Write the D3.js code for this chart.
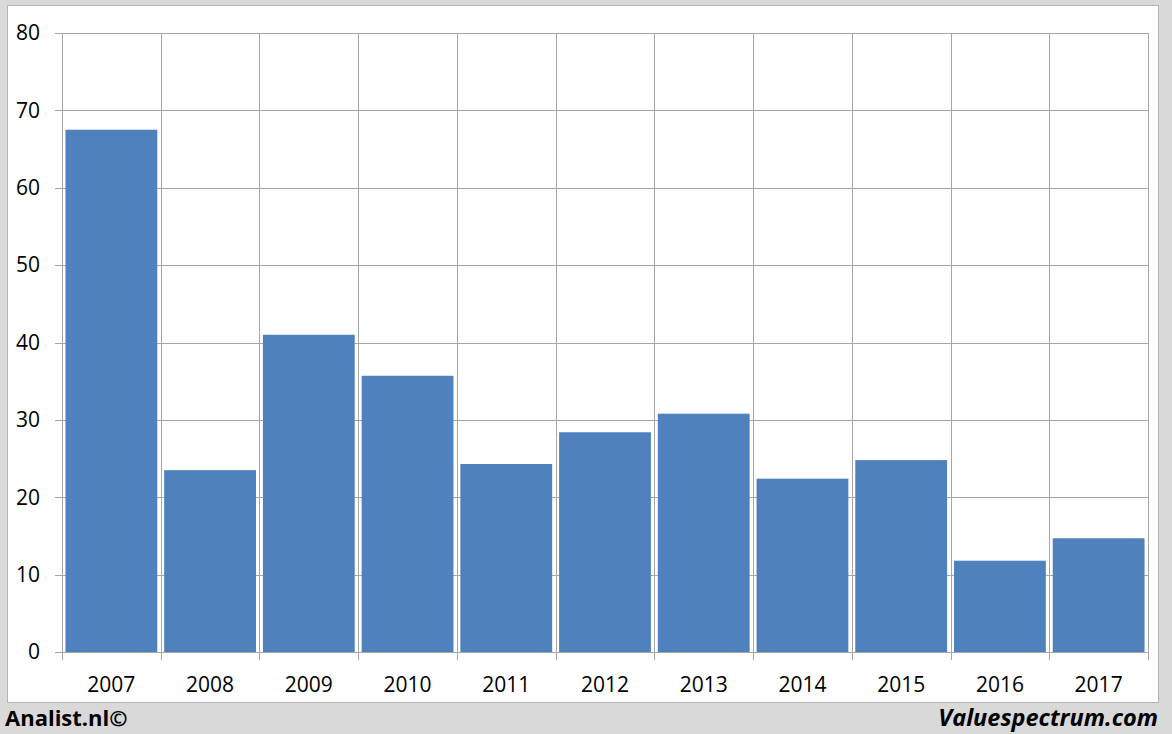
<!DOCTYPE html>
<html><head><meta charset="utf-8">
<script src="https://cdn.jsdelivr.net/npm/d3@7"></script>
<style>body{margin:0;background:#d9d9d9;}svg{display:block;}</style>
</head><body>
<svg id="c" width="1172" height="734"></svg>
<script>
const categories = ["2007","2008","2009","2010","2011","2012","2013","2014","2015","2016","2017"];
const values = [67.5, 23.5, 41.0, 35.7, 24.3, 28.4, 30.8, 22.4, 24.8, 11.8, 14.7];
const yTicks = [0,10,20,30,40,50,60,70,80];

const svg = d3.select("#c");
const font = "'Open Sans', 'Liberation Sans', sans-serif";
svg.append("rect").attr("x",0).attr("y",0).attr("width",1172).attr("height",734).attr("fill","#d9d9d9");
svg.append("rect").attr("x",7.5).attr("y",5.5).attr("width",1151).attr("height",697).attr("fill","#fff").attr("stroke","#b4b4b4");

const L=62, R=1148, T=33, B=652;
const x = d3.scaleBand().domain(categories).range([L,R]).paddingInner(0.07).paddingOuter(0.035);
const xb = d3.scaleBand().domain(categories).range([L,R]);
const y = d3.scaleLinear().domain([0,80]).range([B,T]);

svg.append("g").selectAll("line").data(yTicks).join("line")
  .attr("x1",L-7).attr("x2",R).attr("y1",d=>Math.round(y(d))+0.5).attr("y2",d=>Math.round(y(d))+0.5)
  .attr("stroke","#a6a6a6").attr("stroke-width",1);
const bounds = categories.map(c=>xb(c)).concat([R]);
svg.append("g").selectAll("line").data(bounds).join("line")
  .attr("x1",d=>Math.round(d)+0.5).attr("x2",d=>Math.round(d)+0.5).attr("y1",T).attr("y2",B+8)
  .attr("stroke","#a6a6a6").attr("stroke-width",1);

svg.append("g").selectAll("rect").data(values).join("rect")
  .attr("x",(d,i)=>x(categories[i])).attr("width",x.bandwidth())
  .attr("y",d=>y(d)).attr("height",d=>B-y(d))
  .attr("fill","#4f81bd");

svg.append("g").selectAll("text").data(yTicks).join("text")
  .attr("x",40).attr("y",d=>y(d)).attr("dy","0.35em").attr("text-anchor","end")
  .attr("font-family",font).attr("font-size",21).attr("fill","#000").text(d=>d);
svg.append("g").selectAll("text").data(categories).join("text")
  .attr("x",d=>xb(d)+xb.bandwidth()/2).attr("y",685).attr("dy","0.35em").attr("text-anchor","middle")
  .attr("font-family",font).attr("font-size",21).attr("fill","#000").text(d=>d);

svg.append("text").attr("x",5).attr("y",726).attr("font-family",font).attr("font-weight","bold")
  .attr("font-size",22).attr("fill","#000").text("Analist.nl©");
svg.append("text").attr("x",1158).attr("y",726).attr("text-anchor","end").attr("font-family",font).attr("font-weight","bold").attr("font-style","italic")
  .attr("font-size",23.5).attr("fill","#000").text("Valuespectrum.com");
</script>
</body></html>
